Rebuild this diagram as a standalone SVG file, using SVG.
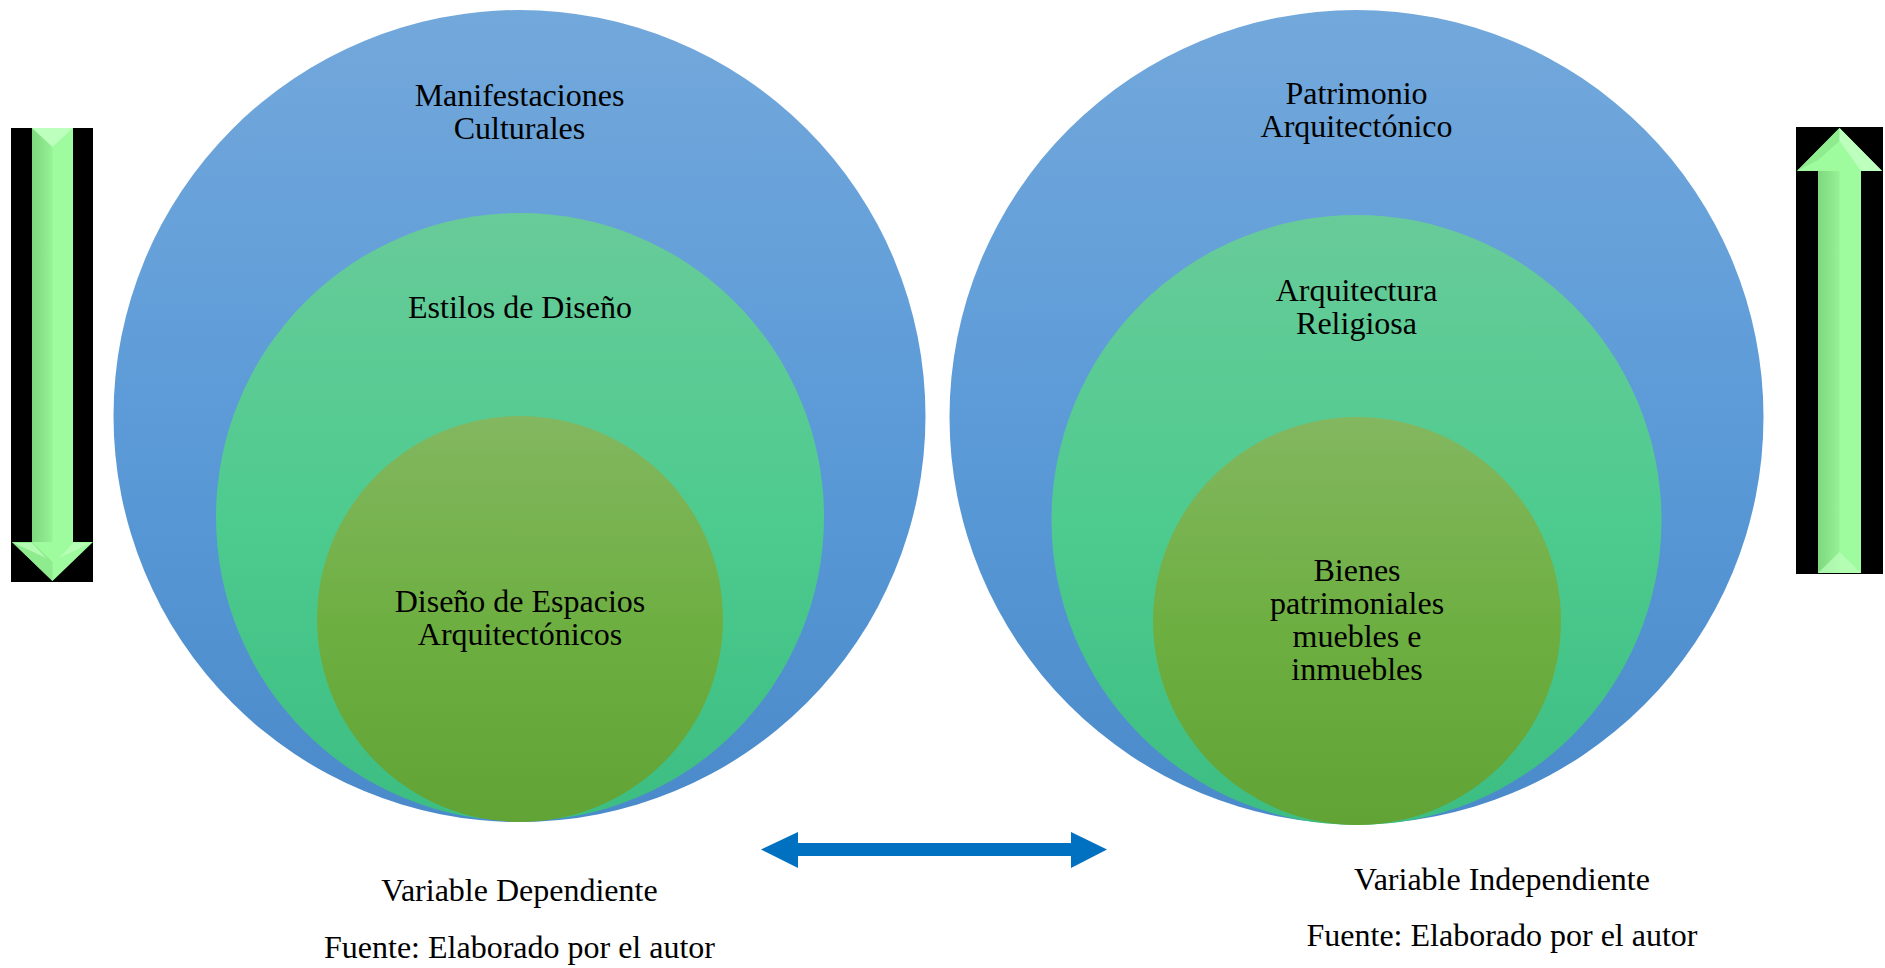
<svg xmlns="http://www.w3.org/2000/svg" width="1885" height="968" viewBox="0 0 1885 968">
<defs>
<linearGradient id="gBlue" x1="0" y1="0" x2="0" y2="1">
<stop offset="0" stop-color="#73A8DB"/>
<stop offset="0.5" stop-color="#5C9BD8"/>
<stop offset="1" stop-color="#4A8ACA"/>
</linearGradient>
<linearGradient id="gMid" x1="0" y1="0" x2="0" y2="1">
<stop offset="0" stop-color="#68CB99"/>
<stop offset="0.5" stop-color="#4ECB8F"/>
<stop offset="1" stop-color="#3CBD82"/>
</linearGradient>
<linearGradient id="gIn" x1="0" y1="0" x2="0" y2="1">
<stop offset="0" stop-color="#83B760"/>
<stop offset="0.5" stop-color="#6EAF42"/>
<stop offset="1" stop-color="#62A335"/>
</linearGradient>
<linearGradient id="gShaftL" x1="0" y1="0" x2="1" y2="0">
<stop offset="0" stop-color="#7ED87E"/>
<stop offset="1" stop-color="#96F296"/>
</linearGradient>
<style>
text{font-family:"Liberation Serif","Times New Roman",serif;font-size:32px;fill:#000;text-anchor:middle}
.bar{fill:#000}
.arr{fill:#9EFB9E}
.hl{fill:#BDFFBD}
</style>
</defs>
<rect width="1885" height="968" fill="#fff"/>

<g id="left-set">
<g id="manifestaciones">
<circle cx="519.5" cy="416" r="406" fill="url(#gBlue)"/>
<text x="519.5" y="106">Manifestaciones</text>
<text x="519.5" y="139">Culturales</text>
</g>
<g id="estilos">
<circle cx="520" cy="517" r="304" fill="url(#gMid)"/>
<text x="520" y="318">Estilos de Diseño</text>
</g>
<g id="diseno">
<circle cx="520" cy="619" r="203" fill="url(#gIn)"/>
<text x="520" y="612">Diseño de Espacios</text>
<text x="520" y="645">Arquitectónicos</text>
</g>
</g>

<g id="right-set">
<g id="patrimonio">
<circle cx="1356.5" cy="417" r="407" fill="url(#gBlue)"/>
<text x="1356.5" y="104">Patrimonio</text>
<text x="1356.5" y="137">Arquitectónico</text>
</g>
<g id="arquitectura">
<circle cx="1356.5" cy="520" r="305" fill="url(#gMid)"/>
<text x="1356.5" y="301">Arquitectura</text>
<text x="1356.5" y="334">Religiosa</text>
</g>
<g id="bienes">
<circle cx="1357" cy="621" r="204" fill="url(#gIn)"/>
<text x="1357" y="581">Bienes</text>
<text x="1357" y="614">patrimoniales</text>
<text x="1357" y="647">muebles e</text>
<text x="1357" y="680">inmuebles</text>
</g>
</g>

<g id="arrow-down">
<rect class="bar" x="11" y="128" width="82" height="454"/>
<polygon class="arr" points="32,128 73,128 73,542 93,542 52.5,581 12,542 32,542"/>
<rect x="32" y="128" width="20.5" height="414" fill="url(#gShaftL)"/>
<polygon class="hl" points="32,128 73,128 52.5,147"/>
<polygon points="12,542 32,542 52.5,562 52.5,581" fill="#8EEB8E"/>
<polygon class="hl" points="14,543 32,543 46,558" opacity="0.8"/>
<polygon class="hl" points="91,543 73,543 59,558" opacity="0.8"/>
</g>

<g id="arrow-up">
<rect class="bar" x="1796" y="127" width="87" height="447"/>
<polygon class="arr" points="1839.5,128 1882,171 1861,171 1861,573 1818,573 1818,171 1797,171"/>
<rect x="1818" y="171" width="21.5" height="402" fill="url(#gShaftL)"/>
<polygon points="1839.5,128 1839.5,141 1818,160 1797,171" fill="#8EEB8E"/>
<polygon class="hl" points="1839.5,128 1882,171 1861,171 1839.5,141"/>
<polygon class="hl" points="1818,573 1861,573 1839.5,552" opacity="0.7"/>
</g>

<g id="connectors">
<polygon fill="#0070C0" points="761,849.5 798,832 798,843 1071,843 1071,832 1107,849.5 1071,868 1071,856 798,856 798,868"/>
</g>

<g id="labels">
<text x="519.5" y="901">Variable Dependiente</text>
<text x="519.5" y="958">Fuente: Elaborado por el autor</text>
<text x="1502" y="890">Variable Independiente</text>
<text x="1502" y="946">Fuente: Elaborado por el autor</text>
</g>
</svg>
